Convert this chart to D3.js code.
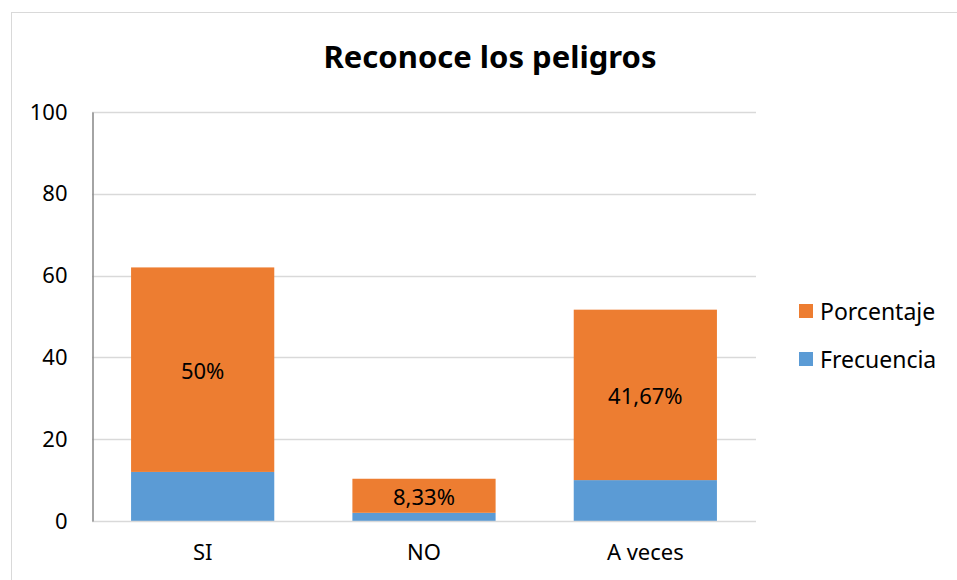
<!DOCTYPE html>
<html>
<head>
<meta charset="utf-8">
<script src="https://cdn.jsdelivr.net/npm/d3@7"></script>
<style>
  body { margin: 0; background: #fff; }
  text { font-family: "Noto Sans", "Open Sans", sans-serif; fill: #000; }
</style>
</head>
<body>
<svg id="mainCanvas" width="957" height="580"></svg>
<script>
var categories = ['SI', 'NO', 'A veces'];
var frecuencia = [12, 2, 10];
var porcentaje = [50, 8.33, 41.67];
var pctLabels = ['50%', '8,33%', '41,67%'];
var yTicks = [0, 20, 40, 60, 80, 100];
var seriesNames = ['Porcentaje', 'Frecuencia'];
var colors = { Frecuencia: '#5B9BD5', Porcentaje: '#ED7D31' };

var plotLeft = 92, plotRight = 756, plotTop = 112, plotBottom = 521;
var fontSize = '22px';

var svg = d3.select('#mainCanvas');

// outer chart frame
svg.append('rect')
   .attr('x', 11.5).attr('y', 12.5)
   .attr('width', 960).attr('height', 600)
   .attr('fill', 'none')
   .attr('stroke', '#d9d9d9');

var x = d3.scaleBand()
          .domain(categories)
          .range([plotLeft, plotRight])
          .paddingInner(0.353)
          .paddingOuter(0.1765);

var y = d3.scaleLinear()
          .domain([0, 100])
          .range([plotBottom, plotTop]);

// gridlines
svg.append('g')
   .selectAll('line')
   .data(yTicks.filter(function(t) { return t > 0; }))
   .enter()
   .append('line')
   .attr('x1', plotLeft).attr('x2', plotRight)
   .attr('y1', function(d) { return Math.round(y(d)) + 0.5; })
   .attr('y2', function(d) { return Math.round(y(d)) + 0.5; })
   .attr('stroke', '#d9d9d9')
   .attr('stroke-width', 1.3);

var rows = categories.map(function(c, i) {
    return { cat: c, Frecuencia: frecuencia[i], Porcentaje: porcentaje[i], label: pctLabels[i] };
});
var stack = d3.stack().keys(['Frecuencia', 'Porcentaje'])(rows);

svg.append('g')
   .selectAll('g')
   .data(stack)
   .enter()
   .append('g')
   .attr('fill', function(s) { return colors[s.key]; })
   .selectAll('rect')
   .data(function(s) { return s; })
   .enter()
   .append('rect')
   .attr('x', function(d) { return x(d.data.cat); })
   .attr('width', x.bandwidth())
   .attr('y', function(d) { return y(d[1]); })
   .attr('height', function(d) { return y(d[0]) - y(d[1]); });

// labels in the orange segment
svg.append('g')
   .selectAll('text')
   .data(stack[1])
   .enter()
   .append('text')
   .attr('x', function(d) { return x(d.data.cat) + x.bandwidth() / 2; })
   .attr('y', function(d) { return (y(d[0]) + y(d[1])) / 2; })
   .attr('text-anchor', 'middle')
   .attr('dominant-baseline', 'central')
   .style('font-size', fontSize)
   .text(function(d) { return d.data.label; });

// baseline
svg.append('line')
   .attr('x1', plotLeft).attr('x2', plotRight)
   .attr('y1', plotBottom + 0.5).attr('y2', plotBottom + 0.5)
   .attr('stroke', '#d9d9d9')
   .attr('stroke-width', 1.5);

// y axis
var yAxis = svg.append('g')
   .attr('transform', 'translate(' + (plotLeft + 0.5) + ',0)')
   .call(d3.axisLeft(y).tickValues(yTicks).tickSize(0).tickPadding(25));
yAxis.select('.domain').attr('stroke', '#868686').attr('stroke-width', 1.5);
yAxis.selectAll('text').style('font-size', fontSize);

// x axis labels
var xAxis = svg.append('g')
   .attr('transform', 'translate(0,' + plotBottom + ')')
   .call(d3.axisBottom(x).tickSize(0).tickPadding(23));
xAxis.select('.domain').remove();
xAxis.selectAll('text').style('font-size', fontSize);

// title
svg.append('text')
   .attr('x', 490).attr('y', 68)
   .attr('text-anchor', 'middle')
   .style('font-size', '31px')
   .style('font-weight', 'bold')
   .text('Reconoce los peligros');

// legend
var legend = svg.append('g')
   .selectAll('g')
   .data(seriesNames)
   .enter()
   .append('g')
   .attr('transform', function(d, i) { return 'translate(799,' + (304 + i * 48) + ')'; });
legend.append('rect')
   .attr('width', 14).attr('height', 14)
   .attr('fill', function(d) { return colors[d]; });
legend.append('text')
   .attr('x', 21).attr('y', 7)
   .attr('dominant-baseline', 'central')
   .style('font-size', '23px')
   .text(function(d) { return d; });
</script>
</body>
</html>
